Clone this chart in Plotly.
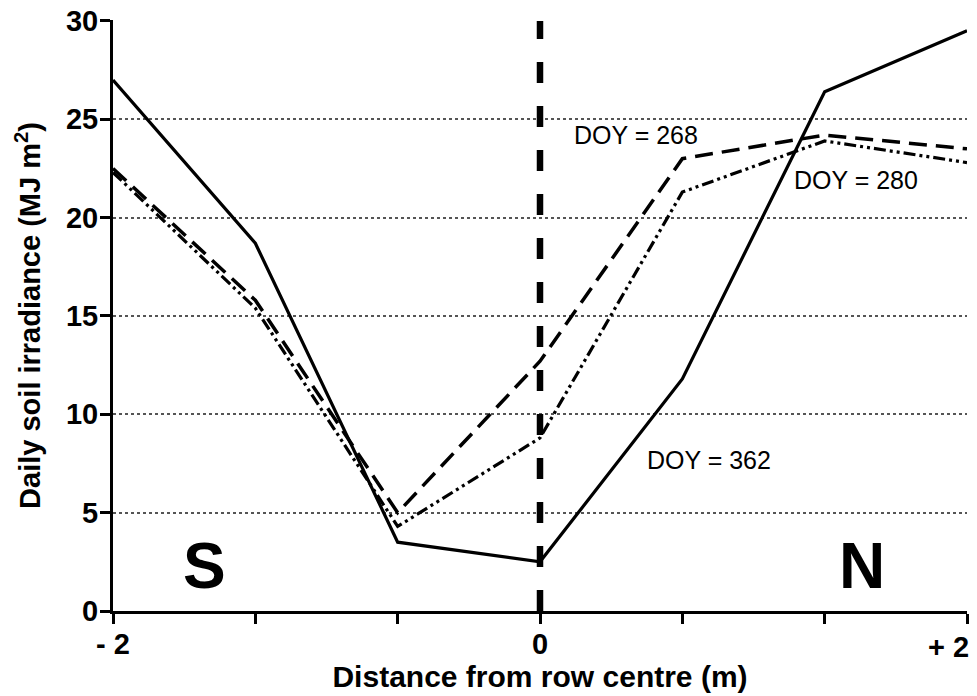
import plotly.graph_objects as go

x = [-2, -4/3, -2/3, 0, 2/3, 4/3, 2]
doy362 = [27.0, 18.7, 3.5, 2.5, 11.8, 26.4, 29.5]
doy268 = [22.5, 15.8, 5.0, 12.7, 23.0, 24.2, 23.5]
doy280 = [22.3, 15.4, 4.3, 8.8, 21.3, 23.9, 22.8]
yticks = [0, 5, 10, 15, 20, 25, 30]
xtickvals = [-2, -4/3, -2/3, 0, 2/3, 4/3, 2]
xticktext = ["- 2", "", "", "0", "", "", ""]

FONT = "Liberation Sans, Arial"

fig = go.Figure()
fig.add_trace(go.Scatter(x=[0, 0], y=[0, 30], mode="lines",
                         line=dict(color="black", width=6.5, dash="21px,23px"), showlegend=False))
fig.add_trace(go.Scatter(x=x, y=doy362, mode="lines", line=dict(color="black", width=3.2), showlegend=False))
fig.add_trace(go.Scatter(x=x, y=doy268, mode="lines", line=dict(color="black", width=3.5, dash="18px,9px"), showlegend=False))
fig.add_trace(go.Scatter(x=x, y=doy280, mode="lines",
                         line=dict(color="black", width=3.2, dash="12px,4px,3px,4px,3px,4px"), showlegend=False))

ann_font = dict(family=FONT, size=25, color="black")
fig.add_annotation(x=0.45, y=24.2, text="DOY = 268", showarrow=False, font=ann_font)
fig.add_annotation(x=1.48, y=21.9, text="DOY = 280", showarrow=False, font=ann_font)
fig.add_annotation(x=0.79, y=7.7, text="DOY = 362", showarrow=False, font=ann_font)
big = dict(family=FONT, size=64, color="black")
fig.add_annotation(x=-1.57, y=2.3, text="<b>S</b>", showarrow=False, font=big)
fig.add_annotation(x=1.51, y=2.3, text="<b>N</b>", showarrow=False, font=big)
# right-most tick label, right-aligned like the reference
fig.add_annotation(x=2, xref="x", y=0, yref="paper", yanchor="top", xanchor="right", xshift=4, yshift=-18,
                   text="<b>+ 2</b>", showarrow=False, font=dict(family=FONT, size=29, color="black"))

# page body has an 8px margin: size the figure to the remaining viewport
fig.update_layout(
    width=969, height=688,
    margin=dict(l=105, r=10, t=12, b=85),
    plot_bgcolor="white", paper_bgcolor="white",
    font=dict(family=FONT, color="black"),
)
fig.update_xaxes(range=[-2, 2], tickvals=xtickvals, ticktext=xticktext, automargin=False,
                 ticks="outside", ticklen=10, tickwidth=3, tickcolor="black", ticklabeloverflow="allow",
                 ticklabelstandoff=-5,
                 showline=True, linecolor="black", linewidth=3, showgrid=False, zeroline=False,
                 tickfont=dict(size=29, family=FONT, weight="bold"),
                 title=dict(text="<b>Distance from row centre (m)</b>", font=dict(size=30), standoff=2))
fig.update_yaxes(range=[0, 30.05], tickvals=yticks, automargin=False,
                 ticks="outside", ticklen=10, tickwidth=3, tickcolor="black",
                 ticklabelstandoff=-4, ticklabeloverflow="allow",
                 showline=True, linecolor="black", linewidth=3,
                 showgrid=True, gridcolor="#555", griddash="dot", gridwidth=1.5, zeroline=False,
                 tickfont=dict(size=29, family=FONT, weight="bold"),
                 title=dict(text="<b>Daily soil irradiance (MJ m<sup>2</sup>)</b>", font=dict(size=29), standoff=17))

fig.write_html("out.html")
